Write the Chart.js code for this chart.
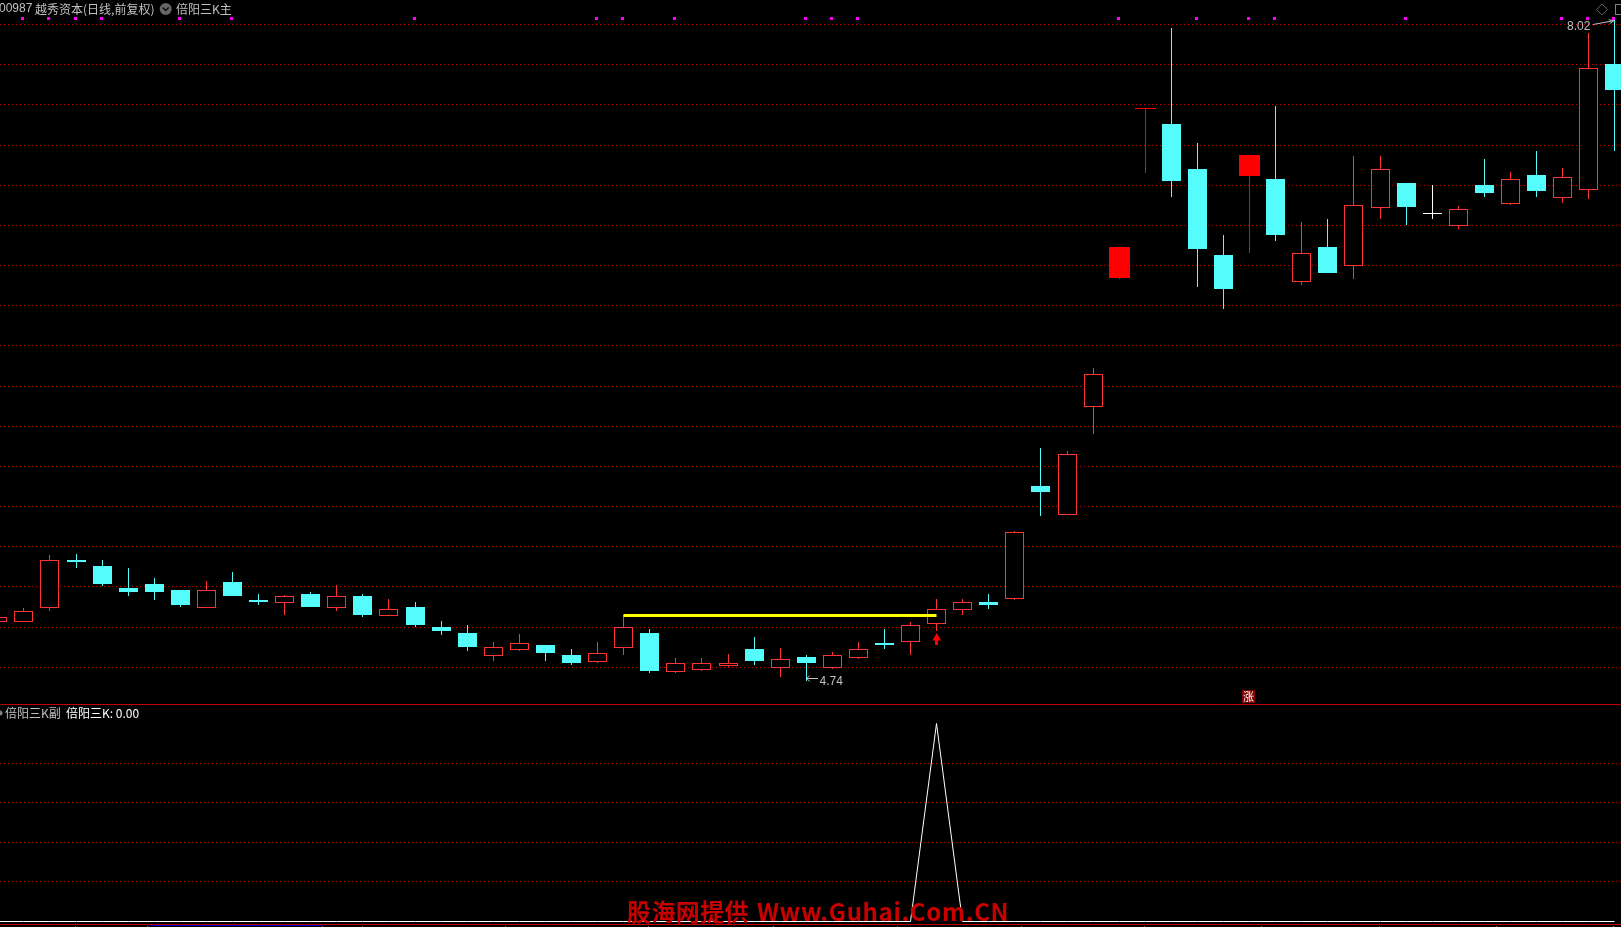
<!DOCTYPE html>
<html lang="zh">
<head>
<meta charset="utf-8">
<title>倍阳三K</title>
<script src="https://cdn.jsdelivr.net/npm/chart.js@4/dist/chart.umd.min.js"></script>
<style>
    html, body { margin: 0; padding: 0; background: #000; overflow: hidden; }
    canvas { display: block; }
</style>
</head>
<body>
<canvas id="klineChart" width="1621" height="927"></canvas>
<script>
const opens = [5.034, 5.034, 5.104, 5.340, 5.310, 5.201, 5.221, 5.191, 5.104, 5.231, 5.142, 5.128, 5.172, 5.104, 5.162, 5.064,
    5.107, 5.008, 4.978, 4.865, 4.894, 4.919, 4.869, 4.834, 4.905, 4.978, 4.786, 4.796, 4.816, 4.899, 4.806, 4.859,
    4.806, 4.856, 4.928, 4.935, 5.024, 5.094, 5.132, 5.148, 5.707, 5.565, 6.101, 6.739, 7.577, 7.503, 7.280, 6.853,
    7.245, 7.230, 6.721, 6.893, 6.800, 7.088, 7.210, 7.059, 6.998, 7.200, 7.107, 7.250, 7.137, 7.177, 7.800];
const highs = [5.062, 5.101, 5.365, 5.370, 5.340, 5.300, 5.251, 5.191, 5.236, 5.281, 5.172, 5.167, 5.181, 5.216, 5.172, 5.147,
    5.132, 5.038, 5.018, 4.933, 4.973, 4.919, 4.899, 4.933, 5.067, 4.998, 4.854, 4.854, 4.874, 4.958, 4.904, 4.869,
    4.884, 4.933, 4.998, 5.033, 5.147, 5.147, 5.172, 5.484, 5.896, 5.881, 6.292, 6.893, 7.582, 7.979, 7.408, 6.952,
    7.349, 7.592, 7.017, 7.032, 7.344, 7.344, 7.210, 7.200, 7.096, 7.329, 7.265, 7.369, 7.284, 7.956, 8.020];
const lows = [5.028, 5.034, 5.089, 5.300, 5.211, 5.162, 5.142, 5.107, 5.104, 5.162, 5.117, 5.067, 5.107, 5.087, 5.057, 5.064,
    5.008, 4.968, 4.889, 4.841, 4.889, 4.839, 4.819, 4.829, 4.869, 4.780, 4.780, 4.790, 4.808, 4.819, 4.760, 4.740,
    4.800, 4.849, 4.899, 4.869, 4.988, 5.067, 5.097, 5.142, 5.558, 5.565, 5.965, 6.734, 7.260, 7.141, 6.694, 6.585,
    6.863, 6.922, 6.704, 6.764, 6.734, 7.032, 7.002, 7.032, 6.982, 7.141, 7.101, 7.141, 7.111, 7.131, 7.369];
const closes = [5.056, 5.086, 5.339, 5.330, 5.221, 5.181, 5.181, 5.117, 5.190, 5.162, 5.132, 5.160, 5.107, 5.160, 5.067, 5.096,
    5.018, 4.988, 4.909, 4.907, 4.927, 4.879, 4.829, 4.877, 5.006, 4.790, 4.828, 4.828, 4.828, 4.839, 4.848, 4.829,
    4.867, 4.897, 4.919, 5.016, 5.096, 5.130, 5.117, 5.478, 5.677, 5.864, 6.261, 6.893, 7.582, 7.220, 6.883, 6.684,
    7.349, 6.952, 6.861, 6.764, 7.099, 7.278, 7.091, 7.063, 7.080, 7.160, 7.228, 7.170, 7.238, 7.779, 7.671];

// signal bars the formula paints in pure red, and the one flat doji
const signalBars = [43, 44, 48];
const flatBars = [55];

const topMarkers = [1, 2, 3, 4, 7, 9, 16, 23, 24, 26, 31, 32, 33, 43, 46, 48, 49, 54, 60, 61, 62];
const markerPrice = 8.027;
const levelLine = { from: 24, to: 36, price: 5.066 };
const upArrow = { index: 36, head: 4.953, shaft: [4.919, 4.963] };

const priceTicks = [7.997, 7.799, 7.600, 7.397, 7.199, 7.000, 6.802, 6.603, 6.405, 6.202, 6.003, 5.805, 5.606, 5.408, 5.210, 5.006, 4.808];
const signalTicks = [0.8, 0.6, 0.4, 0.2];
const signalPeak = 36;
const signalValues = opens.map(function(_, i) { return i === signalPeak ? 1 : 0; });

const dateTicks = [2.98, 5.74, 12.45, 13.98, 19.47, 24.95, 29.74, 34.5, 39.25, 43.97, 48.46, 52.98, 57.47, 61.95];
const blueBar = [5.78, 12.45];

const RED = '#ff3232';
const PURE_RED = '#ff0000';
const CYAN = '#54fcfc';
const GRID = '#c00000';
const SEPARATOR = '#c00000';
const LABEL = '#c0c0c0';

const xMin = 0.0844;
const xMax = 62.24;
const indices = opens.map(function(_, i) { return i; });

function barColor(i) {
    if (flatBars.includes(i)) return '#ffffff';
    if (signalBars.includes(i)) return PURE_RED;
    return closes[i] >= opens[i] ? RED : CYAN;
}

function bodyFill(i) {
    if (flatBars.includes(i) || signalBars.includes(i)) return barColor(i);
    return closes[i] >= opens[i] ? '#000000' : CYAN;
}

const normalBars = indices.filter(function(i) { return !signalBars.includes(i); });

const texts = [
    { text: '00987', x: -1, y: 9, color: LABEL, font: '12px "Liberation Sans"' },
    { text: '越秀资本(日线,前复权)', x: 35, y: 9, color: LABEL, font: '12px "Noto Sans CJK SC"' },
    { text: '倍阳三K主', x: 176, y: 9, color: LABEL, font: '12px "Noto Sans CJK SC"' },
    { text: '倍阳三K副', x: 5, y: 713, color: LABEL, font: '12px "Noto Sans CJK SC"' },
    { text: '倍阳三K: 0.00', x: 66, y: 713, color: '#ffffff', font: '12px "Noto Sans CJK SC"' }
];

// snap everything to whole pixels, the reference has no antialiased bars
const pixelSnap = {
    id: 'pixelSnap',
    afterDatasetsUpdate: function(chart) {
        chart.data.datasets.forEach(function(ds, d) {
            chart.getDatasetMeta(d).data.forEach(function(el) {
                if (ds.type === 'bar') {
                    el.x = Math.floor(el.x) + 0.5;
                    const top = Math.round(Math.min(el.y, el.base));
                    let bottom = Math.round(Math.max(el.y, el.base));
                    if (bottom === top) bottom = top + 1;
                    el.y = top;
                    el.base = bottom;
                    el.height = bottom - top;
                } else if (ds.snap) {
                    el.x = Math.floor(el.x) + 0.5 + (ds.snapShift || 0);
                    el.y = Math.floor(el.y) + 0.5;
                }
            });
        });
    }
};

const annotations = {
    id: 'annotations',
    afterDatasetsDraw: function(chart) {
        const ctx = chart.ctx;
        const xs = chart.scales.x;
        const ys = chart.scales.y;
        ctx.save();
        ctx.textBaseline = 'middle';
        ctx.textAlign = 'left';

        texts.forEach(function(t) {
            ctx.font = t.font;
            ctx.fillStyle = t.color;
            ctx.fillText(t.text, t.x, t.y);
        });

        // header icons
        ctx.fillStyle = '#666666';
        ctx.beginPath();
        ctx.arc(165.7, 9, 6, 0, Math.PI * 2);
        ctx.fill();
        ctx.strokeStyle = '#101010';
        ctx.lineWidth = 1.5;
        ctx.beginPath();
        ctx.moveTo(162.7, 7.5);
        ctx.lineTo(165.7, 10.5);
        ctx.lineTo(168.7, 7.5);
        ctx.stroke();
        ctx.fillStyle = '#808080';
        ctx.beginPath();
        ctx.arc(0, 713, 2.5, 0, Math.PI * 2);
        ctx.fill();
        ctx.strokeStyle = '#606060';
        ctx.lineWidth = 1;
        ctx.beginPath();
        ctx.moveTo(1602, 4);
        ctx.lineTo(1607.5, 9.5);
        ctx.lineTo(1602, 15);
        ctx.lineTo(1596.5, 9.5);
        ctx.closePath();
        ctx.stroke();
        ctx.strokeStyle = '#808080';
        ctx.strokeRect(1615.5, 4.5, 8, 10);

        // high and low labels
        ctx.font = '12px "Liberation Sans"';
        ctx.fillStyle = LABEL;
        ctx.strokeStyle = LABEL;
        ctx.fillText('8.02', 1567, 26.5);
        ctx.fillText('4.74', 819.5, 681.5);
        const hx = xs.getPixelForValue(62) - 1;
        const hy = ys.getPixelForValue(8.02) + 1;
        ctx.beginPath();
        ctx.moveTo(1593, 24.5);
        ctx.lineTo(hx, hy);
        ctx.moveTo(hx - 5, hy - 1);
        ctx.lineTo(hx, hy);
        ctx.lineTo(hx - 4, hy + 3);
        ctx.stroke();
        const lx = xs.getPixelForValue(31) + 0.5;
        const ly = Math.floor(ys.getPixelForValue(4.74)) - 1.5;
        ctx.beginPath();
        ctx.moveTo(818, ly);
        ctx.lineTo(lx, ly);
        ctx.moveTo(lx + 3, ly - 3);
        ctx.lineTo(lx, ly);
        ctx.lineTo(lx + 3, ly + 3);
        ctx.stroke();

        // limit-up badge
        ctx.fillStyle = '#800000';
        ctx.fillRect(1242, 690, 13, 13);
        ctx.fillStyle = '#ffffff';
        ctx.font = '11px "Noto Sans CJK SC"';
        ctx.textAlign = 'center';
        ctx.fillText('涨', 1248.5, 696.5);

        ctx.textAlign = 'left';
        ctx.fillStyle = '#c80000';
        ctx.font = 'bold 24px "Noto Sans CJK SC"';
        ctx.letterSpacing = '0.4px';
        ctx.fillText('股海网提供', 627, 912);
        ctx.letterSpacing = '0.65px';
        ctx.fillText('Www.Guhai.Com.CN', 757, 912);
        ctx.restore();
    }
};

document.addEventListener('DOMContentLoaded', function() {
    const datasets = [
        {
            type: 'bar',
            label: 'wicks',
            data: indices.map(function(i) { return { x: i, y: [lows[i], highs[i]] }; }),
            backgroundColor: indices.map(barColor),
            barThickness: 1,
            grouped: false,
            inflateAmount: 0,
            order: 4
        },
        {
            type: 'bar',
            label: 'bodies',
            data: normalBars.map(function(i) { return { x: i, y: [opens[i], closes[i]] }; }),
            backgroundColor: normalBars.map(bodyFill),
            borderColor: normalBars.map(barColor),
            borderWidth: 1,
            borderSkipped: false,
            barThickness: 19,
            grouped: false,
            inflateAmount: 0,
            order: 3
        },
        {
            type: 'bar',
            label: 'signal bodies',
            data: signalBars.map(function(i) { return { x: i, y: [opens[i], closes[i]] }; }),
            backgroundColor: PURE_RED,
            barThickness: 21,
            grouped: false,
            inflateAmount: 0,
            order: 3
        },
        {
            type: 'bar',
            label: 'arrow shaft',
            data: [{ x: upArrow.index, y: upArrow.shaft }],
            backgroundColor: PURE_RED,
            barThickness: 3,
            grouped: false,
            inflateAmount: 0,
            order: 2
        },
        {
            type: 'line',
            label: 'arrow head',
            data: [{ x: upArrow.index, y: upArrow.head }],
            showLine: false,
            pointStyle: 'triangle',
            pointRadius: 5,
            pointBackgroundColor: PURE_RED,
            pointBorderWidth: 0,
            order: 2
        },
        {
            type: 'line',
            label: 'level',
            data: [{ x: levelLine.from, y: levelLine.price }, { x: levelLine.to, y: levelLine.price }],
            borderColor: '#ffff00',
            borderWidth: 3,
            pointRadius: 0,
            snap: true,
            order: 1
        },
        {
            type: 'line',
            label: 'markers',
            data: topMarkers.map(function(i) { return { x: i, y: markerPrice }; }),
            showLine: false,
            pointStyle: 'rect',
            pointRadius: 2.13,
            pointBackgroundColor: '#ff00ff',
            pointBorderWidth: 0,
            snap: true,
            snapShift: -1,
            order: 1
        },
        {
            type: 'line',
            label: '倍阳三K',
            yAxisID: 'y2',
            data: indices.map(function(i) { return { x: i, y: signalValues[i] }; }),
            borderColor: '#ffffff',
            borderWidth: 1,
            pointRadius: 0,
            tension: 0,
            snap: true,
            order: 1
        },
        {
            type: 'line',
            label: 'pane separator',
            yAxisID: 'y2',
            data: [{ x: xMin, y: 1.1 }, { x: xMax, y: 1.1 }],
            borderColor: SEPARATOR,
            borderWidth: 1,
            pointRadius: 0,
            snap: true,
            order: 5
        },
        {
            type: 'line',
            label: 'date axis',
            yAxisID: 'y2',
            data: [{ x: xMin, y: -0.0188 }, { x: xMax, y: -0.0188 }],
            borderColor: SEPARATOR,
            borderWidth: 1,
            pointRadius: 0,
            snap: true,
            order: 5
        },
        {
            type: 'line',
            label: 'visible range',
            yAxisID: 'y2',
            data: [{ x: blueBar[0], y: -0.0238 }, { x: blueBar[1], y: -0.0238 }],
            borderColor: '#0000c0',
            borderWidth: 1,
            pointRadius: 0,
            snap: true,
            order: 5
        },
        {
            type: 'bar',
            label: 'date ticks',
            yAxisID: 'y2',
            data: dateTicks.map(function(t) { return { x: t, y: [-0.029, -0.0238] }; }),
            backgroundColor: '#c05050',
            barThickness: 1,
            grouped: false,
            inflateAmount: 0,
            order: 5
        }
    ];

    const config = {
        type: 'bar',
        data: { datasets: datasets },
        plugins: [pixelSnap, annotations],
        options: {
            responsive: false,
            animation: false,
            layout: { padding: 0, autoPadding: false },
            scales: {
                x: {
                    type: 'linear',
                    display: false,
                    offset: false,
                    min: xMin,
                    max: xMax,
                    grid: { display: false }
                },
                y: {
                    type: 'linear',
                    position: 'left',
                    min: 3.5198,
                    max: 8.1178,
                    afterBuildTicks: function(scale) {
                        scale.ticks = priceTicks.map(function(v) { return { value: v }; });
                    },
                    ticks: { display: false, autoSkip: false },
                    grid: { color: GRID, drawTicks: false, lineWidth: 1 },
                    border: { display: false, dash: [1, 3] }
                },
                y2: {
                    type: 'linear',
                    position: 'left',
                    min: -0.029,
                    max: 4.6695,
                    afterBuildTicks: function(scale) {
                        scale.ticks = signalTicks.map(function(v) { return { value: v }; });
                    },
                    ticks: { display: false, autoSkip: false },
                    grid: { color: GRID, drawTicks: false, lineWidth: 1 },
                    border: { display: false, dash: [1, 3] }
                }
            },
            plugins: {
                legend: { display: false },
                tooltip: { enabled: false }
            }
        }
    };

    const ctx = document.getElementById('klineChart').getContext('2d');
    new Chart(ctx, config);
});
</script>
</body>
</html>
